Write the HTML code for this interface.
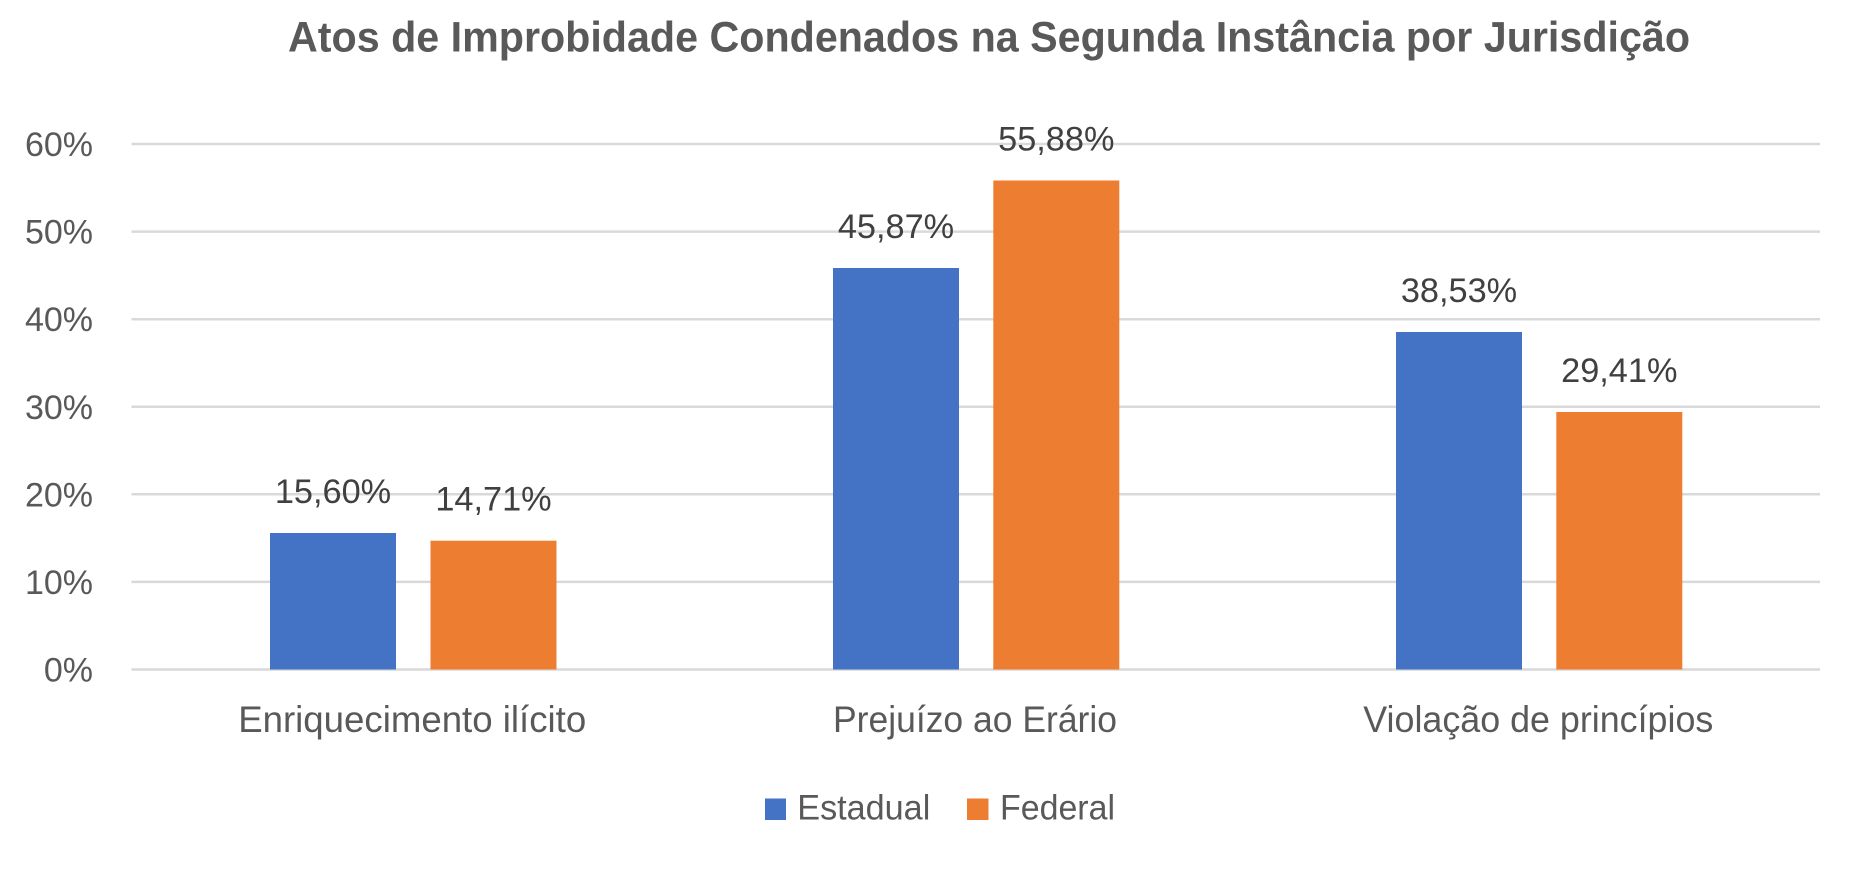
<!DOCTYPE html>
<html>
<head>
<meta charset="utf-8">
<style>
  html, body { margin: 0; padding: 0; background: #ffffff; }
  body { width: 1868px; height: 871px; overflow: hidden; }
  svg { display: block; }
  text { font-family: "Liberation Sans", "DejaVu Sans", sans-serif; }
</style>
</head>
<body>
<svg width="1868" height="871" viewBox="0 0 1868 871" xmlns="http://www.w3.org/2000/svg">
  <rect x="0" y="0" width="1868" height="871" fill="#ffffff"/>

  <!-- Title -->
  <text x="989" y="51.5" text-anchor="middle" font-size="43" font-weight="bold" fill="#595959" textLength="1402" lengthAdjust="spacingAndGlyphs">Atos de Improbidade Condenados na Segunda Instância por Jurisdição</text>

  <!-- Gridlines -->
  <g stroke="#d9d9d9" stroke-width="2.5">
    <line x1="131.5" y1="144" x2="1820" y2="144"/>
    <line x1="131.5" y1="231.6" x2="1820" y2="231.6"/>
    <line x1="131.5" y1="319.2" x2="1820" y2="319.2"/>
    <line x1="131.5" y1="406.8" x2="1820" y2="406.8"/>
    <line x1="131.5" y1="494.3" x2="1820" y2="494.3"/>
    <line x1="131.5" y1="581.9" x2="1820" y2="581.9"/>
    <line x1="131.5" y1="669.5" x2="1820" y2="669.5"/>
  </g>

  <!-- Y tick labels -->
  <g font-size="34" fill="#595959" text-anchor="end">
    <text x="93" y="156">60%</text>
    <text x="93" y="243.6">50%</text>
    <text x="93" y="331.2">40%</text>
    <text x="93" y="418.8">30%</text>
    <text x="93" y="506.3">20%</text>
    <text x="93" y="593.9">10%</text>
    <text x="93" y="681.5">0%</text>
  </g>

  <!-- Bars -->
  <g fill="#4472C4">
    <rect x="270" y="533" width="126" height="136.5"/>
    <rect x="833" y="268" width="126" height="401.5"/>
    <rect x="1396" y="332" width="126" height="337.5"/>
  </g>
  <g fill="#ED7D31">
    <rect x="430.5" y="540.7" width="126" height="128.8"/>
    <rect x="993.3" y="180.5" width="126" height="489"/>
    <rect x="1556.3" y="412" width="126" height="257.5"/>
  </g>

  <!-- Data labels -->
  <g font-size="34.3" fill="#404040" text-anchor="middle">
    <text x="333" y="503">15,60%</text>
    <text x="493.5" y="510.7">14,71%</text>
    <text x="896" y="238.2">45,87%</text>
    <text x="1056.3" y="150.7">55,88%</text>
    <text x="1459" y="302">38,53%</text>
    <text x="1619.3" y="382">29,41%</text>
  </g>

  <!-- Category labels -->
  <g font-size="37" fill="#595959" text-anchor="middle">
    <text x="412.2" y="732" textLength="348" lengthAdjust="spacingAndGlyphs">Enriquecimento ilícito</text>
    <text x="975" y="732" textLength="284" lengthAdjust="spacingAndGlyphs">Prejuízo ao Erário</text>
    <text x="1538.3" y="732" textLength="350" lengthAdjust="spacingAndGlyphs">Violação de princípios</text>
  </g>

  <!-- Legend -->
  <rect x="765" y="798.5" width="21" height="21.5" fill="#4472C4"/>
  <text x="797.3" y="819.3" font-size="35" fill="#595959" textLength="133" lengthAdjust="spacingAndGlyphs">Estadual</text>
  <rect x="967" y="798.5" width="21.5" height="21.5" fill="#ED7D31"/>
  <text x="1000" y="819.3" font-size="35" fill="#595959" textLength="115" lengthAdjust="spacingAndGlyphs">Federal</text>
</svg>
</body>
</html>
